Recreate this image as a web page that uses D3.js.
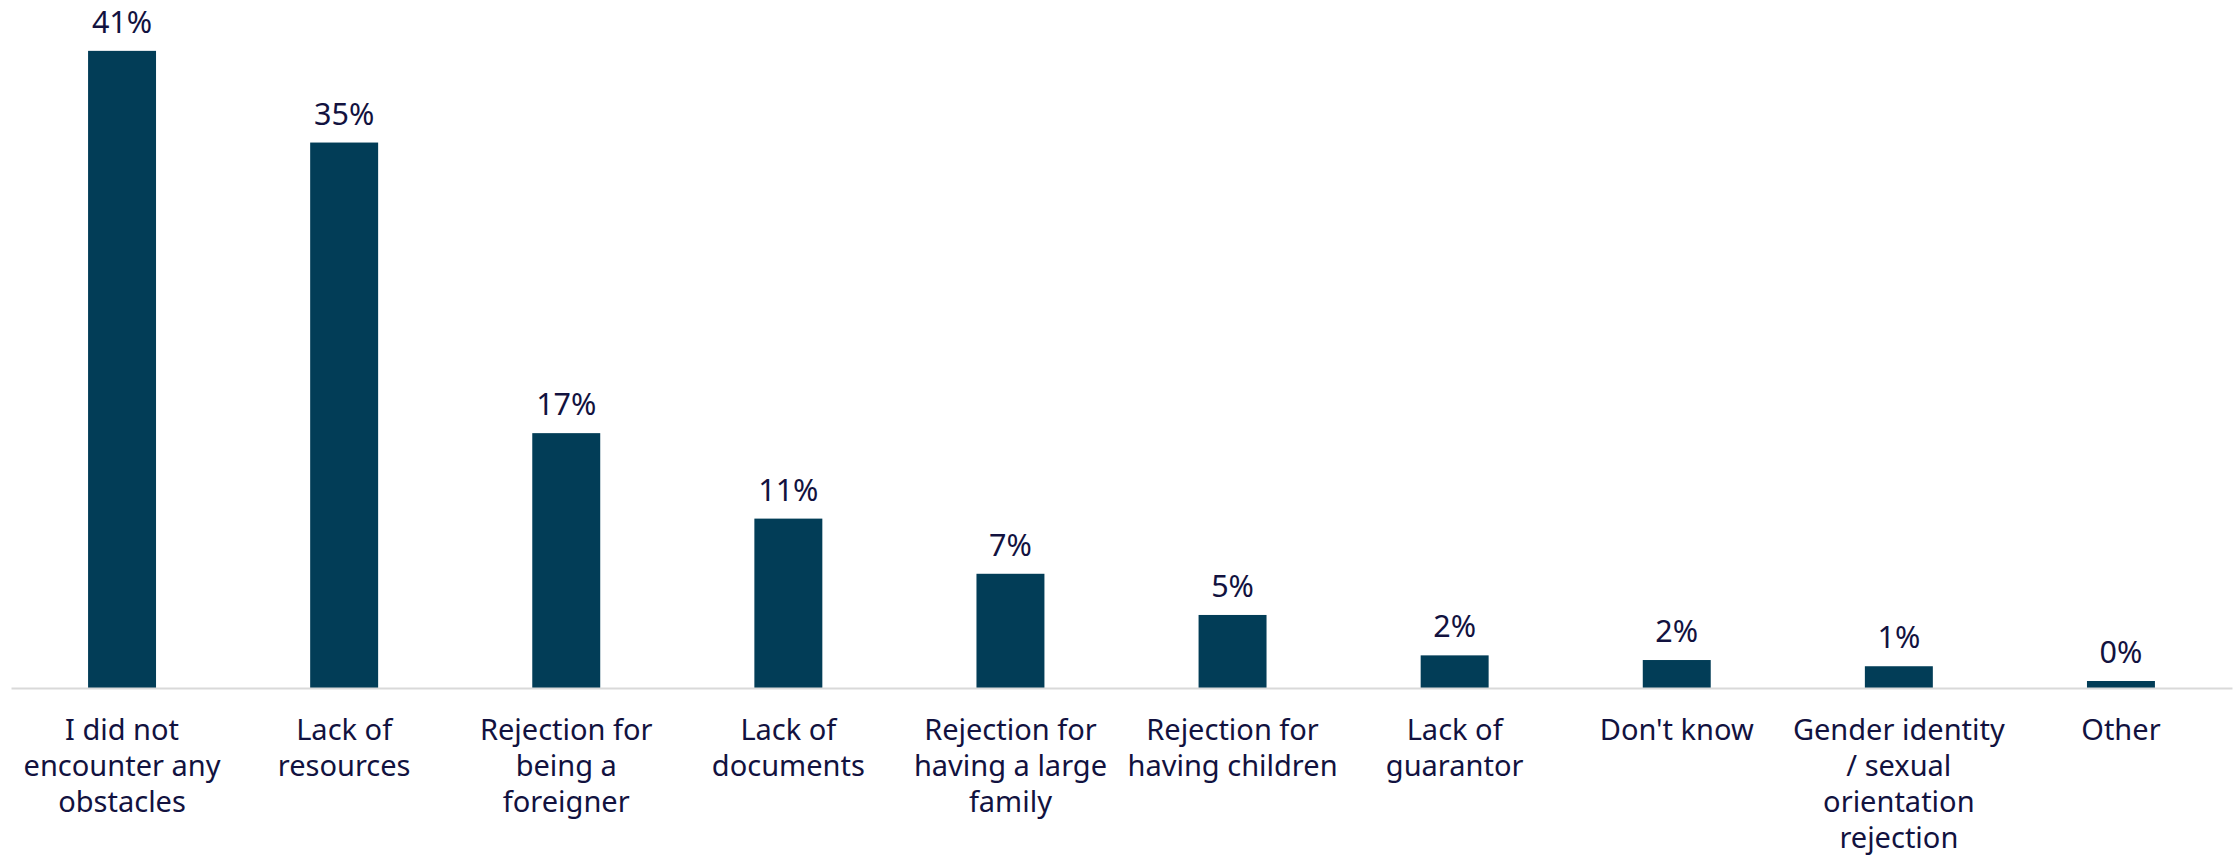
<!DOCTYPE html>
<html><head><meta charset="utf-8">
<script src="https://cdn.jsdelivr.net/npm/d3@7"></script>
<style>body{margin:0;background:#fff}svg{display:block}</style>
</head><body>
<svg id="chart" width="2239" height="857"></svg>
<script>
const categories = ["I did not\nencounter any\nobstacles","Lack of\nresources","Rejection for\nbeing a\nforeigner","Lack of\ndocuments","Rejection for\nhaving a large\nfamily","Rejection for\nhaving children","Lack of\nguarantor","Don't know","Gender identity\n/ sexual\norientation\nrejection","Other"];
const values = [41.0, 35.1, 16.4, 10.9, 7.35, 4.7, 2.1, 1.8, 1.4, 0.45];
const valueLabels = ["41%","35%","17%","11%","7%","5%","2%","2%","1%","0%"];

const svg = d3.select("#chart");
const left = 11, right = 2232, base = 688;
const x = d3.scaleBand().domain(categories).range([left, right]).paddingInner(0.694).paddingOuter(0.347);
const y = d3.scaleLinear().domain([0, 44]).range([base, base - 44 * 15.54]);
const font = "'Noto Sans', 'Open Sans', sans-serif";
const textColor = "#12123f";

svg.append("g").selectAll("rect").data(values).join("rect")
  .attr("x", (d,i) => x(categories[i]))
  .attr("width", x.bandwidth())
  .attr("y", d => y(d))
  .attr("height", d => y(0) - y(d))
  .attr("fill", "#023d57");

const axis = svg.append("g").attr("transform", `translate(0,${base})`)
  .call(d3.axisBottom(x).tickSize(0).tickFormat(""));
axis.select(".domain").attr("stroke", "#d9d9d9").attr("stroke-width", 2);

svg.append("g").selectAll("text").data(values).join("text")
  .attr("x", (d,i) => x(categories[i]) + x.bandwidth()/2)
  .attr("y", d => y(d) - 18)
  .attr("text-anchor", "middle")
  .attr("font-family", font).attr("font-size", 30.5).attr("fill", textColor)
  .text((d,i) => valueLabels[i]);

const lab = svg.append("g").selectAll("text").data(categories).join("text")
  .attr("x", d => x(d) + x.bandwidth()/2)
  .attr("y", 740)
  .attr("text-anchor", "middle")
  .attr("font-family", font).attr("font-size", 29).attr("fill", textColor);
lab.selectAll("tspan").data(d => d.split("\n")).join("tspan")
  .attr("x", function(){ return this.parentNode.getAttribute("x"); })
  .attr("dy", (d,i) => i === 0 ? 0 : 36)
  .text(d => d);
</script>
</body></html>
